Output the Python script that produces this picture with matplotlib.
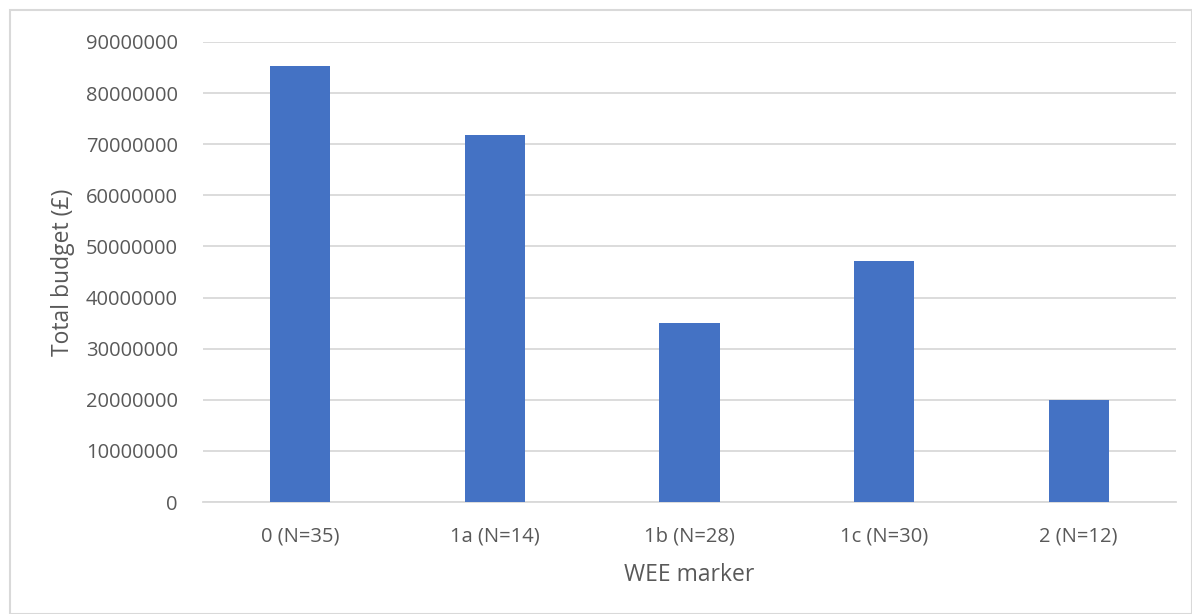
import matplotlib
matplotlib.use("Agg")
import matplotlib.pyplot as plt
from matplotlib.patches import Rectangle

# Total budget per WEE marker category
categories = ["0 (N=35)", "1a (N=14)", "1b (N=28)", "1c (N=30)", "2 (N=12)"]
budgets = [85400000, 71900000, 35000000, 47250000, 19900000]
y_ticks = [0, 10000000, 20000000, 30000000, 40000000, 50000000,
           60000000, 70000000, 80000000, 90000000]

plt.rcParams["font.family"] = ["Open Sans", "DejaVu Sans"]
text_color = "#595959"
grid_color = "#D9D9D9"
bar_color = "#4472C4"

fig = plt.figure(figsize=(11.92, 6.14), dpi=100)
ax = fig.add_axes([0.1703, 0.1824, 0.8163, 0.7492])

x = range(len(categories))
ax.bar(x, budgets, width=0.31, color=bar_color, zorder=3)

ax.set_xlim(-0.5, len(categories) - 0.5)
ax.set_ylim(0, 90000000)
ax.set_yticks(y_ticks)
ax.set_yticklabels([str(v) for v in y_ticks])
ax.set_xticks(list(x))
ax.set_xticklabels(categories)

ax.yaxis.grid(True, color=grid_color, linewidth=1.3, zorder=0)
ax.set_axisbelow(True)
for side in ("top", "right", "left"):
    ax.spines[side].set_visible(False)
ax.spines["bottom"].set_color(grid_color)
ax.spines["bottom"].set_linewidth(1.3)

ax.tick_params(axis="both", length=0, labelsize=14.5, colors=text_color)
ax.tick_params(axis="y", pad=18)
ax.tick_params(axis="x", pad=17.5)

ax.set_ylabel("Total budget (£)", fontsize=16.5, color=text_color, labelpad=8)
ax.set_xlabel("WEE marker", fontsize=16.5, color=text_color, labelpad=12)

# Light frame around the chart area
fig.patches.append(Rectangle((10 / 1192, 0), 1 - 10 / 1192, 1 - 10 / 614,
                             transform=fig.transFigure, fill=False,
                             edgecolor=grid_color, linewidth=1.5))

fig.savefig("out.png", dpi=100, facecolor="white")
